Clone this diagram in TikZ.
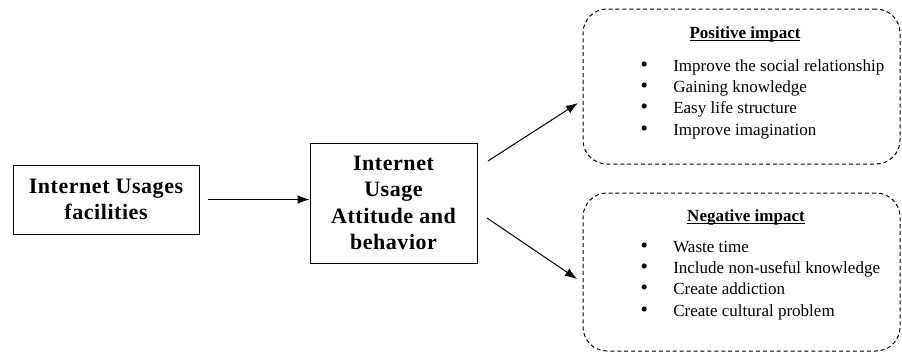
\documentclass[tikz,border=0pt]{standalone}
\usepackage{fontspec}
\setmainfont{Liberation Serif}
\newfontfamily\boxfont[LetterSpace=2.5]{Liberation Serif}
\usetikzlibrary{arrows.meta}
\newcommand\myul[1]{\setbox0\hbox{#1}\rlap{\rule[-2pt]{\wd0}{0.6pt}}\box0}
\tikzset{
  solidbox/.style={draw, line width=0.75pt, inner sep=0pt, align=center,
    font=\boxfont\fontsize{16.5}{19.7}\selectfont\bfseries},
  dashbox/.style={draw, line width=0.75pt, dash pattern=on 3pt off 2.2pt,
    rounded corners=18pt, inner sep=0pt, minimum width=237.75pt},
  titletext/.style={anchor=base, inner sep=0pt, font=\fontsize{12.75}{16}\selectfont\bfseries},
  listtext/.style={anchor=base west, inner sep=0pt, font=\fontsize{12.75}{16}\selectfont},
  conn/.style={line width=0.75pt, -{Latex[length=9pt,width=6.5pt]}}
}
\newcommand\itm{\makebox[24pt][l]{\kern-0.5pt\scalebox{1.25}{\textbullet}}}
\begin{document}
\begin{tikzpicture}[x=0.75pt, y=-0.75pt]
\useasboundingbox (0,0) rectangle (902,354);
% main boxes
\node[solidbox, minimum width=139.5pt, minimum height=51.75pt] (fac) at (106,199.5)
  {Internet Usages\\facilities};
\node[solidbox, minimum width=125.25pt, minimum height=90pt] (att) at (393.5,203)
  {Internet\\Usage\\Attitude and\\behavior};
% impact boxes
\node[dashbox, minimum height=116.25pt] (pos) at (741.5,86.5) {};
\node[dashbox, minimum height=118.5pt] (neg) at (741.5,272) {};
% titles
\node[titletext] (post) at (745,38) {\myul{Positive impact}};
\node[titletext] (negt) at (746,221) {\myul{Negative impact}};
% lists
\node[listtext] (posl) at (641,71) {\begin{tabular}[t]{@{}l@{}l@{}}
\itm & Improve the social relationship\\
\itm & Gaining knowledge\\
\itm & Easy life structure\\
\itm & Improve imagination
\end{tabular}};
\node[listtext] (negl) at (641,252) {\begin{tabular}[t]{@{}l@{}l@{}}
\itm & Waste time\\
\itm & Include non-useful knowledge\\
\itm & Create addiction\\
\itm & Create cultural problem
\end{tabular}};
% connectors
\draw[conn, shorten <=6pt] (fac.east) -- (fac.east -| att.west);
\coordinate (u0) at (488,161);
\coordinate (u1) at (578,103);
\coordinate (d0) at (487,218);
\coordinate (d1) at (577,279);
\draw[conn] (u0) -- (u1);
\draw[conn] (d0) -- (d1);
\end{tikzpicture}
\end{document}
